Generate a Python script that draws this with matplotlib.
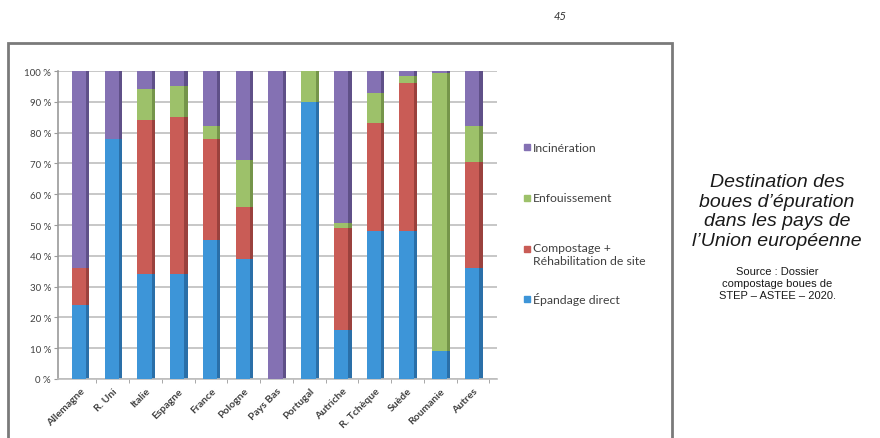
import matplotlib.pyplot as plt
import matplotlib.patches as mpatches
import matplotlib.transforms as mtransforms
import numpy as np

# Data (percent of sludge per destination)
pays = ["Allemagne", "R. Uni", "Italie", "Espagne", "France", "Pologne", "Pays Bas",
        "Portugal", "Autriche", "R. Tchèque", "Suède", "Roumanie", "Autres"]
epandage = [24, 78, 34, 34, 45, 39, 0, 90, 16, 48, 48, 9, 36]
compostage = [12, 0, 50, 51, 33, 17, 0, 0, 33, 35, 48, 0, 34.5]
enfouissement = [0, 0, 10, 10, 4, 15, 0, 10, 1.5, 10, 2.5, 90.5, 11.5]
incineration = [64, 22, 6, 5, 18, 29, 100, 0, 49.5, 7, 1.5, 0.5, 18]

series = [
    ("Épandage direct", epandage, "#3d95d8", "#2a6fa8"),
    ("Compostage +\nRéhabilitation de site", compostage, "#c95c56", "#9a413d"),
    ("Enfouissement", enfouissement, "#9dc16a", "#75954a"),
    ("Incinération", incineration, "#8471b3", "#5f5088"),
]
yticks = [0, 10, 20, 30, 40, 50, 60, 70, 80, 90, 100]

W, H = 880, 439
fig = plt.figure(figsize=(W / 100, H / 100), dpi=100)
plt.rcParams['font.family'] = ['Lato', 'DejaVu Sans']

# frame around the chart (runs off the bottom of the page)
fig.patches.append(mpatches.Rectangle((8 / W, -0.1), (672 - 8) / W, 1.1 - 44 / H,
                                      transform=fig.transFigure, fill=False,
                                      edgecolor="#7a7a7a", linewidth=2))

ax = fig.add_axes([58 / W, 1 - 380 / H, (497 - 58) / W, 308 / H])
x = np.arange(len(pays))
bottom = np.zeros(len(pays))
for label, vals, col, dark in series:
    vals = np.array(vals, dtype=float)
    # darker side face then the front face, for a light 3D look
    ax.bar(x + 0.04, vals, 0.5, bottom=bottom, color=dark, linewidth=0, zorder=2)
    ax.bar(x - 0.03, vals, 0.44, bottom=bottom, color=col, linewidth=0, zorder=3)
    bottom += vals

ax.set_xlim(-0.67, len(pays) - 0.27)
ax.set_ylim(0, 100)
ax.set_yticks(yticks)
ax.set_yticklabels([f"{t} %" for t in yticks], fontsize=7, color="#404040")
ax.grid(axis="y", color="#bdbdbd", linewidth=1.2, zorder=0)
ax.set_xticks(x)
ax.set_xticklabels(pays, rotation=45, ha="right", rotation_mode="anchor",
                   fontsize=7.5, fontweight="bold", color="#404040")
shift = mtransforms.ScaledTranslation(8 / 100, 0, fig.dpi_scale_trans)
for lab in ax.get_xticklabels():
    lab.set_transform(lab.get_transform() + shift)
ax.tick_params(axis="x", length=0, pad=5)
ax.tick_params(axis="y", length=3, color="#9a9a9a", pad=2)
ax.set_xticks(x + 0.5, minor=True)
ax.tick_params(axis="x", which="minor", length=3, color="#9a9a9a")
for side in ["top", "right"]:
    ax.spines[side].set_visible(False)
ax.spines["left"].set_color("#9a9a9a")
ax.spines["bottom"].set_color("#bdbdbd")
ax.spines["left"].set_linewidth(1.2)
ax.spines["bottom"].set_linewidth(1.2)

# legend drawn as in the reference (top to bottom, reversed order)
leg_y = [148, 199, 250, 300]
for (label, vals, col, dark), yy in zip(reversed(series), leg_y):
    fig.patches.append(mpatches.Rectangle((524 / W, 1 - (yy + 3) / H), 6 / W, 6 / H,
                                          transform=fig.transFigure, color=col))
    if "\n" in label:
        fig.text(533 / W, 1 - (yy - 7) / H, label, fontsize=8.8, color="#404040",
                 va="top", linespacing=1.25)
    else:
        fig.text(533 / W, 1 - yy / H, label, fontsize=8.8, color="#404040", va="center")

fig.text(777 / W, 1 - 212 / H,
         "Destination des\nboues d’épuration\ndans les pays de\nl’Union européenne",
         family="Liberation Sans", style="italic", fontsize=14, ha="center",
         va="center", color="#1a1a1a", linespacing=1.2)
fig.text(777 / W, 1 - 284 / H,
         "Source : Dossier\ncompostage boues de\nSTEP – ASTEE – 2020.",
         family="Liberation Sans", fontsize=8, ha="center", va="center",
         color="#1a1a1a", linespacing=1.2)
fig.text(560 / W, 1 - 16 / H, "45", fontsize=8, style="italic", color="#333333",
         ha="center", va="center")

fig.savefig("out.png", dpi=100)
